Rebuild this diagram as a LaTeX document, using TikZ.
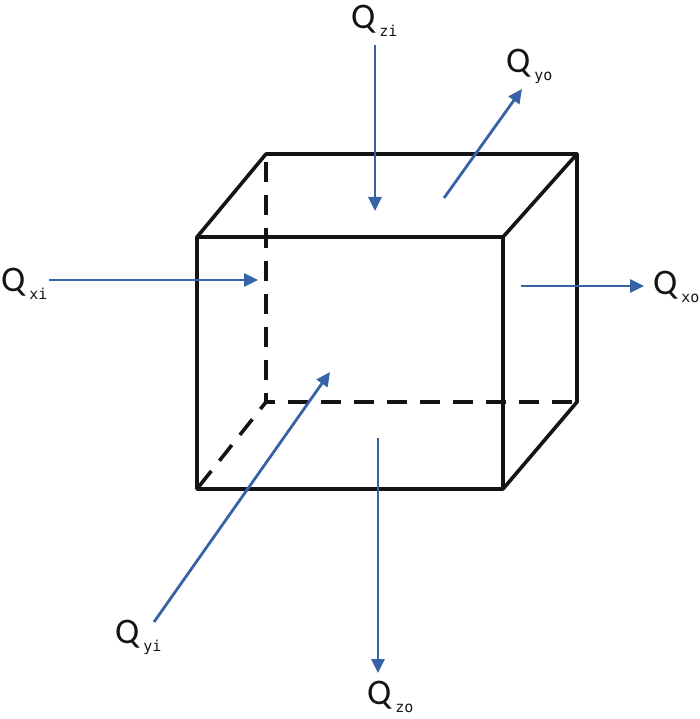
\documentclass[tikz,border=0pt]{standalone}
\usepackage{fontspec}
\setmainfont{Carlito}
\newfontfamily\subfont{DejaVu Sans Mono}
\usepackage{tikz}
\usetikzlibrary{%
	calc,%
	arrows.meta%
}
\definecolor{fluxblue}{RGB}{54,98,166}
\definecolor{edgeblack}{RGB}{20,20,20}
\newcommand{\fluxlabel}[1]{Q\hspace{4pt}\raisebox{-8pt}{\subfont\fontsize{15}{15}\selectfont #1}}
\tikzset{
	edge/.style={draw=edgeblack,line width=3.6pt,line cap=round,line join=round},
	hidden/.style={edge,line cap=butt,dash pattern=on 20pt off 13pt,dash phase=11pt},
	flux/.style={draw=fluxblue,line width=2.8pt,-{Triangle[length=14pt,width=13pt]}},
	fluxname/.style={inner sep=0pt,anchor=base west,text=edgeblack,font=\fontsize{36}{36}\selectfont}
}
\begin{document}
\begin{tikzpicture}[x=1pt,y=-1pt]
		\useasboundingbox (0,0) rectangle (700,719);
		
		%Vertices
		\coordinate (fa) at (197,237);
		\coordinate (fb) at (503,237);
		\coordinate (fc) at (503,489);
		\coordinate (fd) at (197,489);
		\coordinate (ba) at (266,154);
		\coordinate (bb) at (577,154);
		\coordinate (bc) at (577,402);
		\coordinate (bd) at (266,402);
		
		% Visible edges
		\draw[edge] (fa) -- (fb) -- (fc) -- (fd) -- cycle;
		\draw[edge] (fa) -- (ba) -- (bb) -- (fb);
		\draw[edge] (bb) -- (bc) -- (fc);
		
		% Hidden edges
		\foreach \vertex in {ba,bc,fd}
		\draw[hidden] (bd) -- (\vertex);
		
		% Labels
		\node[fluxname] (qxi) at (1,291) {\fluxlabel{xi}};
		\node[fluxname] (qxo) at (653,294) {\fluxlabel{xo}};
		\node[fluxname] (qzi) at (351,29) {\fluxlabel{zi}};
		\node[fluxname] (qzo) at (367,704) {\fluxlabel{zo}};
		\node[fluxname] (qyi) at (115,643) {\fluxlabel{yi}};
		\node[fluxname] (qyo) at (506,73) {\fluxlabel{yo}};
		
		% Arrow ends
		\coordinate (xis) at (49,280);
		\coordinate (xie) at (258,280);
		\coordinate (xos) at (521,286);
		\coordinate (xoe) at (644,286);
		\coordinate (zis) at (375,45);
		\coordinate (zie) at (375,211);
		\coordinate (zos) at (378,438);
		\coordinate (zoe) at (378,673);
		\coordinate (yis) at (154,622);
		\coordinate (yie) at (330,372);
		\coordinate (yos) at (444,198);
		\coordinate (yoe) at (522,89);
		
		% Flows
		\foreach \from/\to in {xis/xie,xos/xoe,zis/zie,zos/zoe,yis/yie,yos/yoe}
		\draw[flux] (\from) -- (\to);
	\end{tikzpicture}
\end{document}
